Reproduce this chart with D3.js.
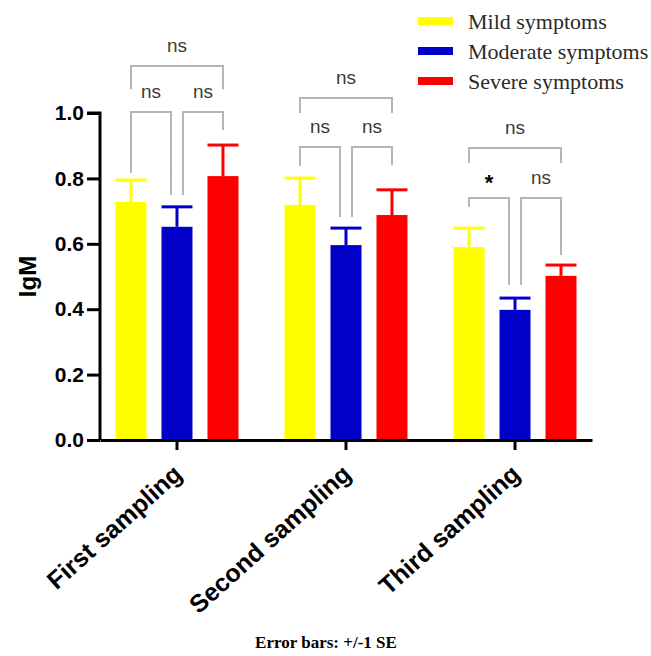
<!DOCTYPE html>
<html lang="en">
<head>
    <meta charset="UTF-8">
    <title>IgM by sampling</title>
    <script src="https://d3js.org/d3.v7.min.js"></script>
    <style>
        body { margin: 0; background: #fff; }
    </style>
</head>
<body>
    <div id="chart"></div>
    <script>
        // Data
        const groups = ["First sampling", "Second sampling", "Third sampling"];
        const series = ["Mild symptoms", "Moderate symptoms", "Severe symptoms"];
        const colors = ["#ffff00", "#0000c8", "#ff0000"];
        const mild = [0.728, 0.719, 0.590];
        const mildSE = [0.067, 0.082, 0.058];
        const moderate = [0.652, 0.596, 0.398];
        const moderateSE = [0.061, 0.052, 0.036];
        const severe = [0.807, 0.688, 0.502];
        const severeSE = [0.095, 0.077, 0.033];
        const yTicks = [0, 0.2, 0.4, 0.6, 0.8, 1.0];

        // Significance brackets: pairs of bars, labels, bracket level and leg ends (IgM units)
        const compPairs = [[0, 1], [1, 2], [0, 2]];
        const compLabels = [["ns", "ns", "ns"], ["ns", "ns", "ns"], ["*", "ns", "ns"]];
        const compLevel = [[1.003, 1.003, 1.144], [0.896, 0.896, 1.046], [0.740, 0.740, 0.893]];
        const compLegLeft = [[0.817, 0.749, 1.073], [0.838, 0.682, 1.000], [0.713, 0.474, 0.847]];
        const compLegRight = [[0.749, 0.948, 1.073], [0.682, 0.841, 1.000], [0.474, 0.566, 0.847]];

        const means = [mild, moderate, severe];
        const errs = [mildSE, moderateSE, severeSE];

        const W = 651, H = 656;
        const margin = { left: 100, right: 59, top: 113, bottom: 216 };

        const svg = d3.select("#chart").append("svg")
            .attr("width", W)
            .attr("height", H);

        const x0 = d3.scaleBand()
            .domain(groups)
            .range([margin.left, W - margin.right])
            .paddingInner(0.089)
            .paddingOuter(0);

        const x1 = d3.scaleBand()
            .domain(d3.range(series.length))
            .range([0, x0.bandwidth()])
            .paddingInner(0.326)
            .paddingOuter(0.337);

        const y = d3.scaleLinear()
            .domain([0, 1])
            .range([H - margin.bottom, margin.top]);

        // bars + error bars
        groups.forEach((g, gi) => {
            series.forEach((s, si) => {
                const bx = x0(g) + x1(si);
                const bw = x1.bandwidth();
                const v = means[si][gi];
                const e = errs[si][gi];
                svg.append("rect")
                    .attr("x", bx)
                    .attr("y", y(v))
                    .attr("width", bw)
                    .attr("height", y(0) - y(v))
                    .attr("fill", colors[si]);
                svg.append("line")
                    .attr("x1", bx + bw / 2).attr("x2", bx + bw / 2)
                    .attr("y1", y(v)).attr("y2", y(v + e))
                    .attr("stroke", colors[si]).attr("stroke-width", 3);
                svg.append("line")
                    .attr("x1", bx).attr("x2", bx + bw)
                    .attr("y1", y(v + e)).attr("y2", y(v + e))
                    .attr("stroke", colors[si]).attr("stroke-width", 3);
            });
        });

        // significance brackets
        const barCenter = (gi, si) => x0(groups[gi]) + x1(si) + x1.bandwidth() / 2;
        groups.forEach((g, gi) => {
            compPairs.forEach((p, ci) => {
                let xl = barCenter(gi, p[0]);
                let xr = barCenter(gi, p[1]);
                // the middle bar is shared by two brackets, so nudge the legs apart
                if (ci === 0) xr -= 6;
                if (ci === 1) xl += 6;
                const yl = y(compLevel[gi][ci]);
                svg.append("path")
                    .attr("d", `M${xl},${y(compLegLeft[gi][ci])}V${yl}H${xr}V${y(compLegRight[gi][ci])}`)
                    .attr("fill", "none")
                    .attr("stroke", "#b4b4b4")
                    .attr("stroke-width", 2);
                const lab = compLabels[gi][ci];
                svg.append("text")
                    .attr("x", (xl + xr) / 2)
                    .attr("y", yl - (lab === "*" ? 8 : 14))
                    .attr("text-anchor", "middle")
                    .attr("font-family", "Liberation Sans, Arial, sans-serif")
                    .attr("font-size", lab === "*" ? 22 : 19)
                    .attr("font-weight", lab === "*" ? "bold" : "normal")
                    .attr("fill", lab === "*" ? "#000" : "#3a3a3a")
                    .text(lab);
            });
        });

        // y axis
        const yAxis = svg.append("g")
            .attr("transform", `translate(${margin.left},0)`)
            .call(d3.axisLeft(y).tickValues(yTicks).tickFormat(d3.format(".1f")).tickSize(13).tickPadding(3));
        yAxis.select(".domain").attr("stroke", "#000").attr("stroke-width", 3)
            .attr("d", `M-13,${y(1)}H0V${y(0)}`);
        yAxis.selectAll(".tick line").attr("stroke", "#000").attr("stroke-width", 3);
        yAxis.selectAll(".tick text")
            .attr("font-family", "Liberation Sans, Arial, sans-serif")
            .attr("font-weight", "bold")
            .attr("font-size", 21)
            .attr("fill", "#000");

        // x axis
        const xAxis = svg.append("g")
            .attr("transform", `translate(0,${y(0)})`)
            .call(d3.axisBottom(x0).tickSize(10).tickSizeOuter(0));
        xAxis.select(".domain").attr("stroke", "#000").attr("stroke-width", 3);
        xAxis.selectAll(".tick line").attr("stroke", "#000").attr("stroke-width", 3);
        xAxis.selectAll(".tick text")
            .attr("font-family", "Liberation Sans, Arial, sans-serif")
            .attr("font-weight", "bold")
            .attr("font-size", 25)
            .attr("fill", "#000")
            .attr("text-anchor", "end")
            .attr("dy", "0.35em")
            .attr("transform", "translate(-8,20) rotate(-42)");

        // y title
        svg.append("text")
            .attr("transform", `translate(36,${(y(0) + y(1)) / 2}) rotate(-90)`)
            .attr("text-anchor", "middle")
            .attr("font-family", "Liberation Sans, Arial, sans-serif")
            .attr("font-weight", "bold")
            .attr("font-size", 24)
            .text("IgM");

        // legend
        const legend = svg.append("g").attr("transform", "translate(418,21)");
        series.forEach((s, i) => {
            const row = legend.append("g").attr("transform", `translate(0,${i * 30})`);
            row.append("rect")
                .attr("x", 0).attr("y", -4)
                .attr("width", 35).attr("height", 8)
                .attr("fill", colors[i]);
            row.append("text")
                .attr("x", 50).attr("y", 0)
                .attr("dy", "0.35em")
                .attr("font-family", "Liberation Serif, Times New Roman, serif")
                .attr("font-size", 22)
                .attr("fill", "#2a2a2a")
                .text(s);
        });

        // footer note
        svg.append("text")
            .attr("x", 326)
            .attr("y", 648)
            .attr("text-anchor", "middle")
            .attr("font-family", "Liberation Serif, Times New Roman, serif")
            .attr("font-weight", "bold")
            .attr("font-size", 17)
            .text("Error bars: +/-1 SE");
    </script>
</body>
</html>
